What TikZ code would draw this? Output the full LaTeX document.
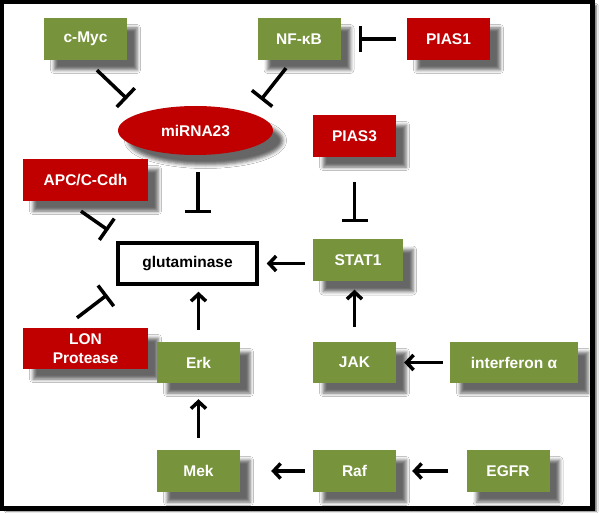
\documentclass[tikz,border=0pt]{standalone}
\usepackage{fontspec}
\setmainfont{Liberation Sans}
\usetikzlibrary{shapes.geometric, arrows.meta, shadows.blur}
\definecolor{actgreen}{RGB}{119,147,60}
\definecolor{inhred}{RGB}{192,0,0}

\begin{document}
\begin{tikzpicture}[x=1pt, y=-1pt,
	softshadow/.style={blur shadow={shadow xshift=10pt, shadow yshift=-10pt, shadow blur radius=3.5pt, shadow opacity=60}},
	actbox/.style={fill=actgreen, text=white, font=\fontsize{15.5}{19}\selectfont\bfseries, minimum width=83pt, minimum height=42pt, inner sep=2pt, align=center, softshadow},
	inhbox/.style={actbox, fill=inhred},
	mirbox/.style={inhbox, ellipse, minimum width=155pt, minimum height=49pt},
	glubox/.style={draw, line width=3.5pt, fill=white, font=\fontsize{15.5}{19}\selectfont\bfseries, minimum width=139pt, minimum height=41pt},
	act/.style={line width=3.5pt, -{Straight Barb[length=7pt, width=15pt]}},
	inh/.style={line width=3.5pt, -{Bar[width=26pt]}}]

	\path[fill=white, use as bounding box] (0,0) rectangle (600,513);
	\draw[line width=4.5pt, fill=white, blur shadow={shadow xshift=4pt, shadow yshift=-3pt, shadow blur radius=1.5pt, shadow opacity=55}] (2.2,2.2) rectangle (592.5,508.5);

	\node[actbox] (cmyc) at (85.5,39) {c-Myc};
	\node[actbox] (nfkb) at (299,39) {NF-κB};
	\node[inhbox] (pias1) at (448.5,39) {PIAS1};
	\node[mirbox] (mirna) at (195.5,130.5) {miRNA23};
	\node[inhbox] (pias3) at (354.5,136) {PIAS3};
	\node[inhbox, minimum width=125pt] (apc) at (85.5,180) {APC/C-Cdh};
	\node[glubox] (glut) at (187.5,263.5) {glutaminase};
	\node[actbox, minimum width=90pt] (stat1) at (358,260.5) {STAT1};
	\node[inhbox, minimum width=125pt, minimum height=41pt] (lon) at (85.5,348.5) {LON\\Protease};
	\node[actbox, minimum height=41pt] (erk) at (198.5,362.5) {Erk};
	\node[actbox, minimum height=41pt] (jak) at (354.5,362.5) {JAK};
	\node[actbox, minimum width=128pt, minimum height=41pt] (ifn) at (514,362.5) {interferon α};
	\node[actbox] (mek) at (198.5,471) {Mek};
	\node[actbox] (raf) at (354.5,471) {Raf};
	\node[actbox] (egfr) at (508,471) {EGFR};

	\draw[inh] ([xshift=11.5pt, yshift=-10pt]cmyc.south) -- ([xshift=-68.5pt, yshift=7pt]mirna.north);
	\draw[inh] ([xshift=-13pt, yshift=-8pt]nfkb.south) -- ([xshift=65.5pt, yshift=6pt]mirna.north);
	\draw[inh, shorten <=11pt, shorten >=18pt] (pias1.west) -- (nfkb.east);
	\draw[inh, shorten <=17pt, shorten >=28pt] ([xshift=2.5pt]mirna.south) -- ([xshift=2.5pt]mirna.south |- glut.north);
	\draw[inh, shorten <=25pt, shorten >=17pt] (pias3.south) -- (pias3.south |- stat1.north);
	\draw[inh] ([xshift=-4.5pt, yshift=-10pt]apc.south) -- ([xshift=-8pt, yshift=11pt]glut.north west);
	\draw[inh] ([xshift=-8.5pt, yshift=10pt]lon.north) -- ([xshift=-9pt, yshift=-9pt]glut.south west);

	\draw[act, shorten <=8pt, shorten >=8pt] (stat1.west |- glut.east) -- (glut.east);
	\draw[act, shorten <=12pt, shorten >=6pt] (erk.north) -- (erk.north |- glut.south);
	\draw[act, shorten <=12pt, shorten >=16pt] (mek.north) -- (erk.south);
	\draw[act, shorten <=15pt, shorten >=8pt] (jak.north) -- (jak.north |- stat1.south);
	\draw[act, shorten <=7pt, shorten >=8pt] (ifn.west) -- (jak.east);
	\draw[act, shorten <=8pt, shorten >=31pt] (raf.west) -- (mek.east);
	\draw[act, shorten <=18pt, shorten >=16pt] (egfr.west) -- (raf.east);

\end{tikzpicture}
\end{document}
